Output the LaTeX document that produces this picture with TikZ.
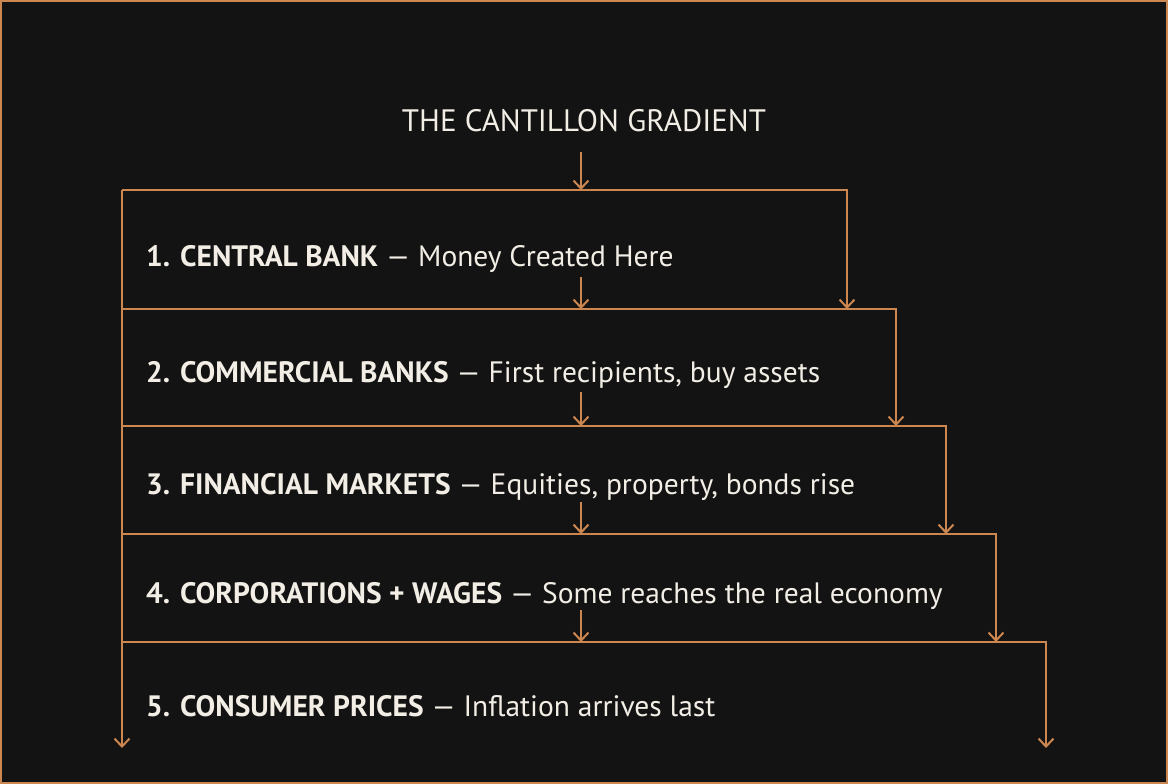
\documentclass[tikz,border=0pt]{standalone}
\usepackage{fontspec}
\setmainfont{PT Sans}
\usetikzlibrary{arrows.meta}
\definecolor{bg}{RGB}{19,19,19}
\definecolor{org}{RGB}{204,134,80}
\definecolor{txt}{RGB}{242,238,230}
\tikzset{
  ln/.style={draw=org,line width=2pt},
  arr/.style={ln,-{Straight Barb[length=8pt,width=15pt,line width=2pt]}},
  rowtxt/.style={anchor=base west,inner sep=0pt,text=txt,font=\fontsize{29.5}{32}\selectfont},
}
\begin{document}
\begin{tikzpicture}[x=1pt,y=-1pt]
\fill[bg] (0,0) rectangle (1168,784);
\useasboundingbox (0,0) rectangle (1168,784);
\draw[ln] (1,1) rectangle (1167,783);
\node[anchor=base,inner sep=0pt,text=txt,font=\fontsize{31}{34}\selectfont] (title) at (584,131) {THE CANTILLON GRADIENT};
% coordinates
\coordinate (a0) at (581,152);
\foreach \i/\y/\r/\e in {1/190/847/309,2/309/896/426,3/426/946/534,4/534/996/642,5/642/1046/748}{
  \coordinate (L\i) at (122,\y);
  \coordinate (R\i) at (\r,\y);
  \coordinate (E\i) at (\r,\e);
  \coordinate (M\i) at (581,\y);
}
\coordinate (Lend) at (122,748);
\node[rowtxt] (t1) at (146,266) {\textbf{1. CENTRAL BANK} — Money Created Here};
\node[rowtxt] (t2) at (146,382) {\textbf{2. COMMERCIAL BANKS} — First recipients, buy assets};
\node[rowtxt] (t3) at (146,494) {\textbf{3. FINANCIAL MARKETS} — Equities, property, bonds rise};
\node[rowtxt] (t4) at (146,603) {\textbf{4. CORPORATIONS + WAGES} — Some reaches the real economy};
\node[rowtxt] (t5) at (146,716) {\textbf{5. CONSUMER PRICES} — Inflation arrives last};
\coordinate (s1) at (581,277);
\coordinate (s2) at (581,392);
\coordinate (s3) at (581,502);
\coordinate (s4) at (581,610);
% box outlines
\foreach \i in {1,...,5}{
  \draw[arr] (L\i) -- (R\i) -- (E\i);
}
\draw[arr] (L1) -- (Lend);
% flow arrows
\draw[arr] (a0) -- (M1);
\draw[arr] (s1) -- (M2);
\draw[arr] (s2) -- (M3);
\draw[arr] (s3) -- (M4);
\draw[arr] (s4) -- (M5);
\end{tikzpicture}
\end{document}
